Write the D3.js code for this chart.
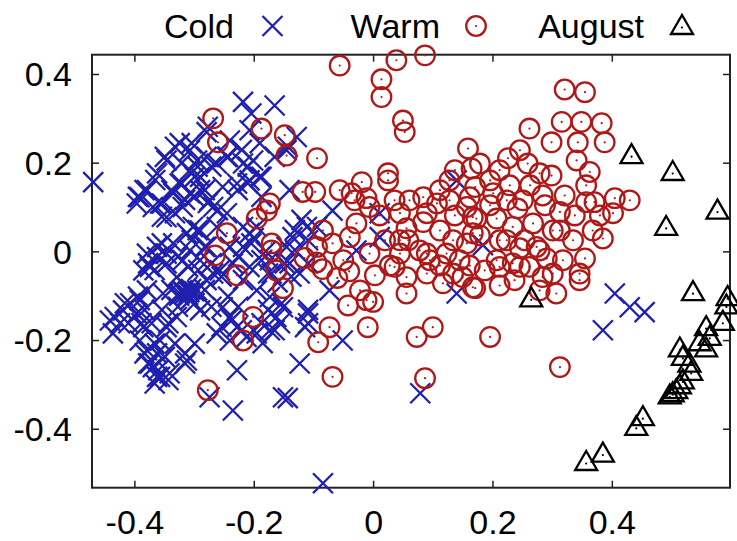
<!DOCTYPE html>
<html>
<head>
<meta charset="utf-8">
<script src="https://cdn.jsdelivr.net/npm/d3@7"></script>
<style>
  html, body { margin: 0; padding: 0; background: #fff; }
  svg { display: block; }
  text { font-family: "Liberation Sans", Arial, Helvetica, sans-serif; }
</style>
</head>
<body>
<svg id="chart" width="737" height="541"></svg>
<script>
// ---- Data ----
const seriesNames = ["Cold", "Warm", "August"];
const xTicks = [-0.4, -0.2, 0, 0.2, 0.4];
const yTicks = [-0.4, -0.2, 0, 0.2, 0.4];

const coldX = [-0.469,-0.218,-0.165,-0.084,0.079,0.140,0.140,0.184,0.405,0.430,0.455,0.385,
-0.279,-0.240,-0.207,-0.190,-0.307,-0.324,-0.346,-0.362,-0.379,-0.391,-0.396,-0.369,-0.346,-0.357,-0.335,-0.324,-0.307,-0.295,-0.279,-0.262,-0.245,-0.218,-0.201,-0.190,-0.207,-0.228,-0.252,-0.274,-0.290,-0.290,-0.307,-0.319,-0.268,-0.245,-0.262,-0.290,-0.302,-0.312,-0.335,-0.362,-0.379,-0.346,-0.307,-0.279,-0.240,-0.218,-0.207,-0.195,-0.218,
-0.128,-0.145,-0.140,-0.068,0.011,0.011,-0.094,-0.111,-0.135,-0.145,-0.028,-0.140,-0.123,-0.073,-0.109,-0.114,-0.051,-0.123,-0.143,-0.156,
-0.228,-0.235,-0.274,-0.151,-0.312,-0.341,-0.362,-0.374,-0.441,-0.436,-0.419,-0.396,-0.391,-0.385,-0.379,-0.362,-0.357,-0.346,-0.329,-0.312,-0.324,-0.307,-0.290,-0.295,-0.279,-0.268,-0.252,-0.240,-0.228,-0.262,-0.240,-0.212,-0.195,-0.173,-0.185,-0.162,-0.151,-0.173,-0.195,-0.218,-0.207,-0.235,-0.257,-0.290,-0.319,-0.346,-0.374,-0.385,-0.362,-0.329,-0.312,-0.352,-0.379,-0.407,-0.424,-0.391,-0.369,-0.357,
-0.318,-0.305,-0.310,-0.300,-0.325,-0.173,-0.170,-0.180,-0.160,-0.200,
-0.204,-0.277,-0.304,-0.332,-0.349,-0.321,-0.294,-0.271,-0.243,-0.220,-0.210,-0.187,-0.165,-0.143,-0.383,-0.394,-0.365,-0.354,-0.354,-0.338,-0.321,-0.299,-0.282,-0.277,-0.260,-0.299,-0.315,-0.332,-0.227,-0.210,-0.187,-0.120,-0.109,-0.131,
-0.294,-0.304,-0.282,-0.354,-0.377,-0.366,-0.327,-0.310,-0.293,-0.271,-0.254,-0.226,-0.204,-0.187,-0.176,-0.148,-0.131,-0.137,-0.109,
-0.315,-0.312,-0.320,-0.308,-0.338,-0.299,-0.327,-0.282,-0.271,-0.243,-0.226,-0.237,-0.254,-0.220,-0.187,-0.165,-0.176,-0.153,-0.109,-0.109,
-0.433,-0.410,-0.416,-0.394,-0.383,-0.388,-0.371,-0.354,-0.343,-0.366,-0.383,-0.377,-0.360,-0.349,-0.332,-0.315,-0.299,-0.315,-0.343,-0.366];
const coldY = [0.156,0.337,0.329,-0.523,-0.320,-0.095,0.160,0.014,-0.095,-0.126,-0.137,-0.178,
0.269,0.250,0.273,0.244,0.228,0.244,0.205,0.176,0.138,0.122,0.108,0.100,0.077,0.108,0.131,0.153,0.183,0.205,0.213,0.198,0.213,0.198,0.205,0.168,0.160,0.153,0.145,0.115,0.138,0.168,0.131,0.100,0.100,0.086,0.055,0.047,0.055,0.041,0.018,0.010,-0.005,-0.005,0.002,0.010,0.010,0.010,0.041,0.055,0.055,
0.258,0.228,0.138,0.092,0.086,0.032,0.055,0.055,0.032,0.010,0.002,-0.027,-0.050,-0.088,-0.140,-0.171,-0.201,-0.253,-0.331,-0.162,
-0.268,-0.359,-0.329,-0.329,-0.246,-0.275,-0.283,-0.253,-0.156,-0.185,-0.133,-0.140,-0.110,-0.171,-0.223,-0.230,-0.201,-0.171,-0.148,-0.103,-0.095,-0.110,-0.133,-0.088,-0.065,-0.050,-0.126,-0.148,-0.171,-0.185,-0.201,-0.193,-0.185,-0.178,-0.207,-0.148,-0.126,-0.103,-0.088,-0.065,-0.035,-0.027,-0.043,-0.020,-0.020,-0.027,-0.035,-0.043,-0.013,-0.058,-0.081,-0.095,-0.088,-0.117,-0.162,-0.201,-0.261,-0.283,
-0.092,-0.085,-0.098,-0.090,-0.100,-0.020,-0.050,0.000,-0.070,0.030,
0.311,0.281,0.244,0.236,0.213,0.199,0.191,0.191,0.213,0.229,0.191,0.168,0.213,0.236,0.138,0.123,0.161,0.108,0.078,0.138,0.153,0.168,0.138,0.109,0.093,0.123,0.116,0.086,0.138,0.154,0.123,0.071,0.025,0.048,
0.048,0.025,0.010,0.018,-0.027,-0.042,-0.012,-0.035,-0.042,-0.027,-0.057,-0.012,0.018,-0.020,-0.050,-0.027,0.003,-0.057,-0.027,
-0.095,-0.100,-0.088,-0.092,-0.087,-0.117,-0.125,-0.087,-0.125,-0.102,-0.125,-0.155,-0.170,-0.178,-0.162,-0.178,-0.132,-0.117,-0.132,-0.162,
-0.148,-0.162,-0.117,-0.102,-0.132,-0.162,-0.162,-0.132,-0.162,-0.208,-0.230,-0.253,-0.268,-0.238,-0.208,-0.230,-0.208,-0.253,-0.290,-0.298];

const warmX = [-0.268,-0.260,-0.187,-0.148,-0.145,-0.173,-0.178,-0.195,-0.245,-0.170,-0.265,-0.228,-0.162,-0.151,-0.201,-0.218,-0.277,-0.170,
-0.056,0.039,0.087,0.014,0.014,0.050,0.053,0.159,-0.094,-0.118,-0.097,-0.056,-0.019,-0.036,-0.031,-0.011,0.025,0.025,0.128,0.165,0.171,0.084,0.107,0.090,0.084,0.045,0.011,0.056,0.045,0.059,-0.028,-0.039,-0.084,-0.068,-0.094,-0.006,0.128,0.157,0.167,0.134,0.157,0.167,0.090,0.123,-0.006,
0.003,-0.022,-0.011,-0.042,0.000,0.045,0.036,0.056,0.056,0.095,0.090,0.117,0.134,0.150,0.167,-0.073,-0.092,-0.009,0.073,0.100,-0.068,0.087,
0.321,0.355,0.262,0.316,0.349,0.383,0.299,0.343,0.388,0.341,0.363,0.357,0.357,0.371,0.405,0.430,0.402,0.368,0.385,0.355,0.179,0.226,0.259,0.279,0.299,0.284,0.321,0.242,0.207,0.173,0.162,0.201,0.224,0.251,0.313,0.301,0.335,0.268,0.234,0.224,0.246,0.274,0.291,0.318,0.346,0.207,0.234,0.301,0.262,
0.171,0.307,0.346,0.196,0.313,0.246,0.212,0.284,
0.112,0.137,0.196,0.229,0.263,0.212,0.246,0.288,0.313,0.338,0.380,0.078,0.112,0.145,0.187,0.212,0.237,0.279,0.028,0.020,0.112,0.137,0.196,0.254,0.279,0.212,0.179,0.162,0.061,0.036,
-0.115,-0.095,-0.085,-0.060,-0.050,-0.040];
const warmY = [0.300,0.246,0.277,0.262,0.216,0.108,0.092,0.074,0.041,0.018,-0.009,-0.054,-0.043,-0.083,-0.148,-0.201,-0.313,0.002,
0.419,0.431,0.442,0.388,0.348,0.295,0.269,0.232,0.210,0.134,0.134,0.138,0.156,0.131,0.115,0.120,0.176,0.160,0.160,0.187,0.145,0.122,0.108,0.086,0.066,0.086,0.081,0.052,0.025,0.025,0.063,0.032,0.047,0.018,0.010,0.100,0.115,0.100,0.077,0.025,0.018,0.041,-0.005,-0.005,-0.005,
-0.054,-0.088,-0.110,-0.122,-0.114,-0.005,-0.035,-0.058,-0.095,-0.020,-0.050,-0.072,-0.050,-0.058,-0.081,-0.171,-0.205,-0.171,-0.193,-0.171,-0.283,-0.286,
0.365,0.359,0.277,0.292,0.292,0.289,0.246,0.246,0.246,0.205,0.179,0.149,0.111,0.111,0.120,0.115,0.086,0.047,0.029,-0.016,0.198,0.210,0.198,0.176,0.171,0.126,0.126,0.097,0.074,0.074,0.122,0.131,0.115,0.115,0.089,0.047,0.025,0.063,0.055,0.025,0.007,0.010,-0.016,-0.020,-0.050,-0.020,-0.027,-0.050,-0.035,
-0.083,-0.095,-0.065,-0.193,-0.261,-0.035,-0.035,-0.058,
0.047,0.081,0.104,0.149,0.149,0.183,0.228,0.104,0.047,0.081,0.081,0.002,-0.032,-0.020,-0.043,-0.077,-0.065,-0.088,-0.032,0.025,0.138,0.183,0.160,0.025,0.002,0.025,0.036,-0.032,0.115,0.115,
-0.015,-0.025,-0.040,-0.060,-0.020,-0.045];

const augustX = [0.433,0.502,0.577,0.491,0.265,0.536,0.594,0.592,0.586,0.558,0.564,0.558,0.514,0.547,0.519,0.530,0.533,0.519,0.514,0.508,0.502,0.497,0.452,0.441,0.385,0.357];
const augustY = [0.217,0.179,0.092,0.055,-0.106,-0.092,-0.103,-0.122,-0.159,-0.171,-0.193,-0.219,-0.219,-0.205,-0.238,-0.253,-0.272,-0.291,-0.302,-0.313,-0.320,-0.325,-0.374,-0.396,-0.456,-0.475];

// ---- Layout ----
const svg = d3.select("#chart");
const mL = 92, mR = 730, mT = 54.7, mB = 487.7;
const x = d3.scaleLinear().domain([-0.471, 0.598]).range([mL, mR]);
const y = d3.scaleLinear().domain([-0.533, 0.4435]).range([mB, mT]);
const fmt = v => (Math.abs(v) < 1e-9 ? "0" : v.toFixed(1));
const FS = 34;
const colors = { Cold: "#2020b0", Warm: "#b01818", August: "#000000" };

// Axes (ticks inside, mirrored)
const axB = d3.axisBottom(x).tickValues(xTicks).tickSize(-7).tickPadding(22).tickFormat(fmt);
const axT = d3.axisTop(x).tickValues(xTicks).tickSize(-7).tickFormat("");
const axL = d3.axisLeft(y).tickValues(yTicks).tickSize(-7).tickPadding(20).tickFormat(fmt);
const axR = d3.axisRight(y).tickValues(yTicks).tickSize(-7).tickFormat("");

function styleAxis(g) {
  g.select(".domain").remove();
  g.selectAll(".tick line").attr("stroke", "#222").attr("stroke-width", 1.5);
  g.selectAll("text").attr("fill", "#000").style("font-size", FS + "px")
    .style("font-family", "'Liberation Sans', Arial, sans-serif");
}
svg.append("g").attr("transform", `translate(0,${mB})`).call(axB).call(styleAxis)
  .selectAll("text").attr("dy", "0.71em").attr("y", 22);
svg.append("g").attr("transform", `translate(0,${mT})`).call(axT).call(styleAxis);
svg.append("g").attr("transform", `translate(${mL},0)`).call(axL).call(styleAxis)
  .selectAll("text").attr("dy", "0.35em");
svg.append("g").attr("transform", `translate(${mR},0)`).call(axR).call(styleAxis);

// Frame
svg.append("rect").attr("x", mL).attr("y", mT)
  .attr("width", mR - mL).attr("height", mB - mT)
  .attr("fill", "none").attr("stroke", "#222").attr("stroke-width", 2);

// Marker drawers
const crossPath = "M-10,-10L10,10M10,-10L-10,10";
const triPath = "M0,-11L11,8L-11,8Z";

function drawCross(g, cx, cy) {
  g.append("path").attr("d", crossPath).attr("transform", `translate(${cx},${cy})`)
    .attr("fill", "none").attr("stroke", colors.Cold).attr("stroke-width", 2.3);
}
function drawCircle(g, cx, cy) {
  g.append("circle").attr("cx", cx).attr("cy", cy).attr("r", 9.8)
    .attr("fill", "none").attr("stroke", colors.Warm).attr("stroke-width", 2.3);
  g.append("circle").attr("cx", cx).attr("cy", cy).attr("r", 1.1).attr("fill", colors.Warm);
}
function drawTri(g, cx, cy) {
  g.append("path").attr("d", triPath).attr("transform", `translate(${cx},${cy})`)
    .attr("fill", "none").attr("stroke", colors.August).attr("stroke-width", 2.3)
    .attr("stroke-linejoin", "miter");
  g.append("circle").attr("cx", cx).attr("cy", cy + 1.5).attr("r", 1.1).attr("fill", colors.August);
}

const gCold = svg.append("g");
coldX.forEach((v, i) => drawCross(gCold, x(v), y(coldY[i])));
const gWarm = svg.append("g");
warmX.forEach((v, i) => drawCircle(gWarm, x(v), y(warmY[i])));
const gAug = svg.append("g");
augustX.forEach((v, i) => drawTri(gAug, x(v), y(augustY[i])));

// Legend
const legend = [
  { name: seriesNames[0], tx: 234, mx: 272.5, draw: drawCross },
  { name: seriesNames[1], tx: 440, mx: 476, draw: drawCircle },
  { name: seriesNames[2], tx: 644, mx: 682, draw: drawTri }
];
const gLeg = svg.append("g");
legend.forEach(d => {
  gLeg.append("text").attr("x", d.tx).attr("y", 37.7).attr("text-anchor", "end")
    .style("font-size", FS + "px").attr("fill", "#000").text(d.name);
  d.draw(gLeg, d.mx, 26);
});
</script>
</body>
</html>
